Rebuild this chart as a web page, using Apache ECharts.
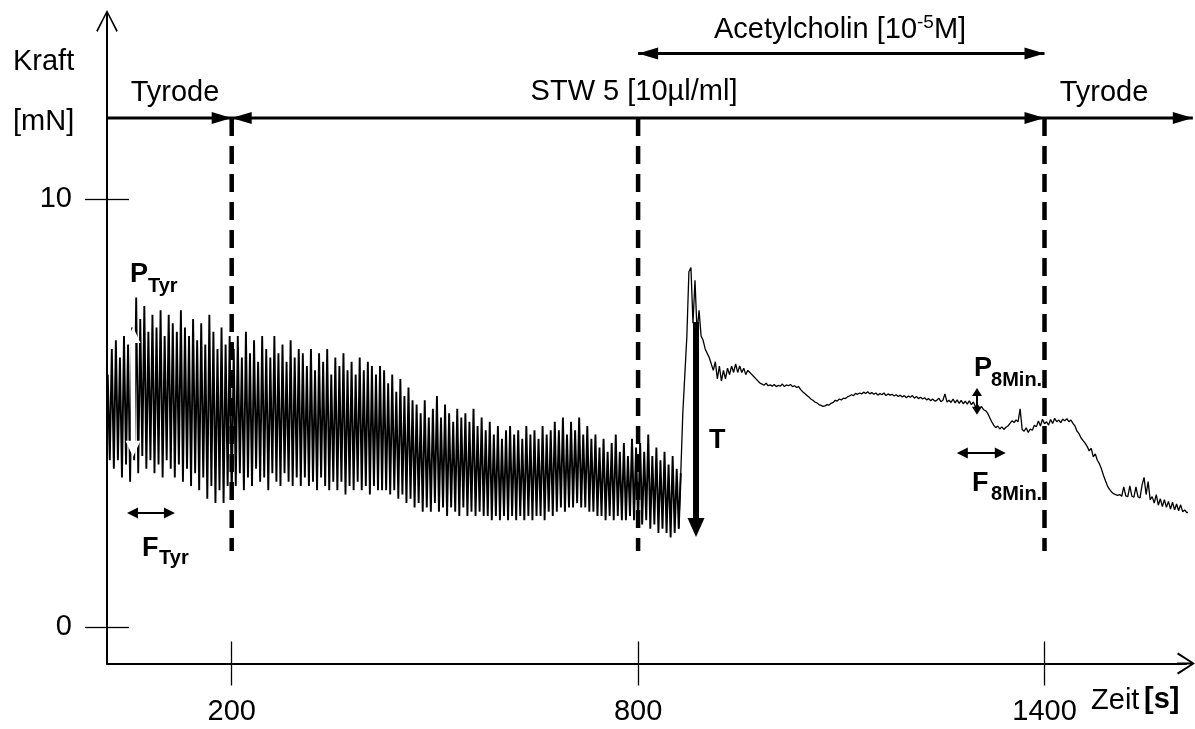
<!DOCTYPE html>
<html><head><meta charset="utf-8">
<script src="https://cdn.jsdelivr.net/npm/echarts@6/dist/echarts.min.js"></script>
<style>html,body{margin:0;padding:0;background:#fff}#c{width:1195px;height:729px}</style>
</head><body><div id="c"></div>
<script>
// ---------------- data (force in mN, sampled every 3 s) ----------------
const sampleStepS = 3;
const phaseStartS = [17, 203, 803, 1403];
// Tyrode (17 s .. 200 s)
const tyrodeForce = [
  5.9,3.9, 6.5,3.7, 6.7,3.9, 6.3,3.5, 6.8,3.8,
  6.6,3.4, 7.0,3.9, 7.7,3.6, 7.2,4.0, 7.5,3.7,
  6.9,3.9, 7.3,3.6, 7.0,3.8, 7.4,3.5, 6.8,3.9,
  7.3,3.7, 7.1,3.5, 6.9,3.8, 7.4,3.4, 7.0,3.7,
  6.8,3.3, 7.2,3.6, 6.7,3.2, 7.1,3.5, 6.6,3.0,
  7.3,3.3, 6.9,2.9, 6.5,3.2, 7.0,2.9, 6.6,3.3,
  6.8,3.0
];
// STW 5 (203 s .. 800 s)
const stwForce = [
  6.5,3.3, 6.8,3.6, 6.3,3.2, 6.9,3.5, 6.4,3.3,
  6.7,3.7, 6.2,3.4, 6.8,3.5, 6.5,3.2, 6.3,3.6,
  6.8,3.4, 6.4,3.3, 6.6,3.6, 6.2,3.4, 6.7,3.3,
  6.3,3.5, 6.5,3.3, 6.4,3.5, 6.1,3.3, 6.5,3.4,
  6.0,3.2, 6.4,3.5, 6.2,3.3, 6.5,3.2, 5.9,3.4,
  6.3,3.2, 6.1,3.4, 6.4,3.1, 6.0,3.3, 6.2,3.2,
  5.9,3.4, 6.3,3.2, 6.0,3.3, 6.2,3.1, 6.1,3.3,
  5.9,3.2, 6.1,3.2, 6.0,3.2, 5.7,3.1, 5.9,3.2,
  5.5,3.0, 5.8,3.1, 5.4,2.9, 5.6,3.0, 5.3,2.8,
  5.2,2.9, 5.0,2.7, 5.3,2.8, 4.9,2.7, 5.1,2.9,
  5.4,2.7, 4.9,2.8, 5.2,2.6, 5.0,2.8, 4.8,2.7,
  5.1,2.6, 4.9,2.8, 5.0,2.6, 4.8,2.7, 5.1,2.6,
  4.7,2.7, 4.9,2.6, 4.6,2.6, 4.8,2.5, 4.5,2.6,
  4.7,2.5, 4.4,2.6, 4.6,2.5, 4.7,2.6, 4.5,2.5,
  4.6,2.6, 4.4,2.5, 4.7,2.6, 4.5,2.5, 4.6,2.6,
  4.4,2.6, 4.7,2.5, 4.5,2.7, 4.6,2.6, 4.8,2.7,
  4.6,2.8, 4.9,2.7, 4.5,2.8, 4.8,2.8, 4.6,2.9,
  4.9,2.8, 4.5,2.8, 4.7,2.7, 4.4,2.7, 4.5,2.6,
  4.2,2.6, 4.4,2.5, 4.1,2.6, 4.3,2.5, 4.5,2.6,
  4.1,2.5, 4.3,2.5, 4.0,2.6, 4.4,2.5, 4.2,2.4
];
// STW 5 + Acetylcholin (803 s .. 1400 s)
const achForce = [
  4.3,2.4, 4.1,2.5, 4.5,2.3, 4.0,2.4, 4.2,2.2,
  3.9,2.3, 4.1,2.2, 3.8,2.1, 4.0,2.2, 3.7,2.3,
  3.6, 5.0, 5.9, 6.8, 8.3, 8.4, 7.1, 8.1, 6.9, 7.4,
  6.8, 6.7, 6.5, 6.4, 6.3, 6.15, 6.0, 6.2, 5.8, 6.1,
  5.75, 6.0, 5.8, 6.05, 5.9, 6.1, 5.95, 6.15, 5.95, 6.1,
  5.95, 6.05, 5.9, 6.0, 5.95, 5.9, 5.85, 5.8, 5.75, 5.7,
  5.68, 5.65, 5.7, 5.64, 5.66, 5.63, 5.67, 5.62, 5.65, 5.63,
  5.68, 5.62, 5.66, 5.64, 5.67, 5.62, 5.64, 5.6, 5.62, 5.55,
  5.5, 5.46, 5.42, 5.38, 5.33, 5.3, 5.26, 5.24, 5.2, 5.18,
  5.16, 5.17, 5.2, 5.19, 5.23, 5.25, 5.3, 5.28, 5.33, 5.31,
  5.35, 5.34, 5.38, 5.4, 5.43, 5.41, 5.46, 5.44, 5.47, 5.45,
  5.49, 5.46, 5.5, 5.45, 5.48, 5.44, 5.47, 5.42, 5.46, 5.43,
  5.47, 5.41, 5.45, 5.42, 5.44, 5.4, 5.43, 5.39, 5.42, 5.38,
  5.41, 5.36, 5.4, 5.37, 5.41, 5.35, 5.39, 5.34, 5.37, 5.33,
  5.36, 5.31, 5.34, 5.29, 5.33, 5.28, 5.3, 5.35, 5.27, 5.3,
  5.45, 5.26, 5.3, 5.25, 5.33, 5.24, 5.31, 5.23, 5.3, 5.22,
  5.28, 5.21, 5.29, 5.2, 5.26, 5.15, 5.2, 5.12, 5.15, 5.08,
  5.06, 5.0, 4.9, 4.8, 4.72, 4.66, 4.7, 4.63, 4.68, 4.62,
  4.67, 4.7, 4.76, 4.82, 4.78, 4.84, 4.8, 5.1, 4.62, 4.58,
  4.66, 4.55, 4.63, 4.6, 4.72, 4.68, 4.82, 4.7, 4.86, 4.75
];
// Tyrode wash-out (1403 s .. 1616 s)
const washForce = [
  4.8, 4.72, 4.85, 4.76, 4.88, 4.8, 4.84, 4.78, 4.86, 4.82,
  4.87, 4.8, 4.84, 4.76, 4.7, 4.58, 4.52, 4.42, 4.36, 4.3,
  4.22, 4.12, 4.18, 3.98, 4.05, 3.9, 3.82, 3.7, 3.55, 3.42,
  3.3, 3.22, 3.16, 3.12, 3.1, 3.08, 3.1, 3.06, 3.28, 3.07,
  3.05, 3.3, 3.06, 3.04, 3.28, 3.05, 3.02, 3.32, 3.5, 3.1,
  3.4, 2.98, 3.05, 2.9, 3.1, 2.85, 3.0, 2.82, 2.98, 2.8,
  2.94, 2.76, 2.92, 2.74, 2.88, 2.72, 2.86, 2.7, 2.74, 2.68,
  2.68, 2.67
];
const xTickValues = [200, 800, 1400];
const yTickValues = [0, 10];
const phaseBoundsS = [200, 800, 1400];
const phaseLabels = ['Tyrode', 'STW 5 [10µl/ml]', 'Tyrode'];
const contractionStartS = 862;   // end of rhythmic phase / start of tonic contraction

// ---------------- build ----------------
const phases = [tyrodeForce, stwForce, achForce, washForce];
const forceData = [];
phases.forEach((arr, p) => arr.forEach((v, i) => forceData.push([phaseStartS[p] + i * sampleStepS, v])));
const rhythmicData = forceData.filter(d => d[0] <= contractionStartS + 1);
const tonicData = forceData.filter(d => d[0] >= contractionStartS - 2);

const FONT = '"Liberation Sans", Arial, Helvetica, sans-serif';
const X_MIN = 15.9, X_MAX = 1608.9, Y_MIN = -0.845, Y_MAX = 14.156;
const arrowY = 'path://M11,0 L22,21 L20.6,22.4 L11,3 L1.4,22.4 L0,21 Z M10,2 L12,2 L12,22 L10,22 Z';
const arrowX = 'path://M11,0 L22,17 L20.4,18.2 L11,3.2 L1.6,18.2 L0,17 Z M10,2 L12,2 L12,18 L10,18 Z';
const plainNum = v => String(v);

const chart = echarts.init(document.getElementById('c'), null, {renderer: 'canvas'});
const option = {
  animation: false,
  backgroundColor: '#ffffff',
  grid: {left: 107, right: 9, top: 21, bottom: 65.5, containLabel: false, outerBoundsMode: 'none'},
  xAxis: [{
    type: 'value', min: X_MIN, max: X_MAX, position: 'bottom',
    axisLine: {show: true, onZero: false, lineStyle: {color: '#000', width: 2}, symbol: ['none', arrowX], symbolSize: [22, 18]},
    axisTick: {show: true, customValues: xTickValues, length: 22, inside: false, lineStyle: {color: '#000', width: 1.3}},
    axisLabel: {show: true, customValues: xTickValues, formatter: plainNum, margin: 34, color: '#000', fontSize: 29, fontFamily: FONT},
    splitLine: {show: false}
  }, {
    type: 'value', min: X_MIN, max: X_MAX, position: 'bottom',
    axisLine: {show: false, onZero: false},
    axisTick: {show: true, customValues: xTickValues, length: 22, inside: true, lineStyle: {color: '#000', width: 1.3}},
    axisLabel: {show: false}, splitLine: {show: false}
  }],
  yAxis: [{
    type: 'value', min: Y_MIN, max: Y_MAX, position: 'left',
    axisLine: {show: true, onZero: false, lineStyle: {color: '#000', width: 2}, symbol: ['none', arrowY], symbolSize: [22, 22]},
    axisTick: {show: true, customValues: yTickValues, length: 22, inside: false, lineStyle: {color: '#000', width: 1.3}},
    axisLabel: {show: true, customValues: yTickValues, formatter: plainNum, margin: 35, color: '#000', fontSize: 29, fontFamily: FONT},
    splitLine: {show: false}
  }, {
    type: 'value', min: Y_MIN, max: Y_MAX, position: 'left',
    axisLine: {show: false, onZero: false},
    axisTick: {show: true, customValues: yTickValues, length: 22, inside: true, lineStyle: {color: '#000', width: 1.3}},
    axisLabel: {show: false}, splitLine: {show: false}
  }],
  series: [{
    type: 'line', data: rhythmicData, xAxisIndex: 0, yAxisIndex: 0,
    showSymbol: false, symbol: 'none', clip: false, silent: true,
    lineStyle: {color: '#000', width: 1.9, join: 'miter'}
  }, {
    type: 'line', data: tonicData, xAxisIndex: 0, yAxisIndex: 0,
    showSymbol: false, symbol: 'none', clip: false, silent: true,
    lineStyle: {color: '#000', width: 1.3}
  }]
};
chart.setOption(option);

// ---------------- annotations (positions in data units: s, mN) ----------------
const ROW_F = 11.89, ACH_F = 13.40, DASH_BOTTOM_F = 1.78, ROW_END_T = 1619;
const px = (t, f) => chart.convertToPixel({xAxisIndex: 0, yAxisIndex: 0}, [t, f]);
const els = [];
function line(a, b, w, color, dash) {
  els.push({type: 'line', z: 100, silent: true, shape: {x1: a[0], y1: a[1], x2: b[0], y2: b[1]},
    style: {stroke: color, lineWidth: w, lineDash: dash || null, lineCap: 'butt'}});
}
function head(tip, dx, dy, len, hw, color) {
  const bx = tip[0] - dx * len, by = tip[1] - dy * len;
  els.push({type: 'polygon', z: 101, silent: true,
    shape: {points: [[tip[0], tip[1]], [bx - dy * hw, by + dx * hw], [bx + dy * hw, by - dx * hw]]},
    style: {fill: color}});
}
function text(t, f, str, font, align) {
  const p = px(t, f);
  els.push({type: 'text', z: 102, silent: true,
    style: {text: str, x: p[0], y: p[1], font: font, fill: '#000', textAlign: align || 'left', align: align || 'left',
      textVerticalAlign: 'middle', verticalAlign: 'middle'}});
}
const REG = '29px ' + FONT, BOLD = 'bold 27px ' + FONT, SUB = 'bold 20px ' + FONT;

// phase bar
const r0 = px(X_MIN, ROW_F), r1 = px(ROW_END_T, ROW_F);
line(r0, r1, 3, '#000');
const b200 = px(phaseBoundsS[0], ROW_F), b1400 = px(phaseBoundsS[2], ROW_F);
head(b200, 1, 0, 20, 6, '#000');
head(b200, -1, 0, 20, 6, '#000');
head(b1400, 1, 0, 20, 6, '#000');
head(r1, 1, 0, 20, 6, '#000');
// acetylcholin bar
const a0 = px(phaseBoundsS[1], ACH_F), a1 = px(phaseBoundsS[2], ACH_F);
line(a0, a1, 3, '#000');
head(a0, -1, 0, 20, 6, '#000');
head(a1, 1, 0, 20, 6, '#000');
// dashed phase boundaries
phaseBoundsS.forEach(t => line(px(t, ROW_F), px(t, DASH_BOTTOM_F), 4.5, '#000', [18, 10]));

// phase labels
text(116.3, 12.47, phaseLabels[0], REG, 'center');
text(794.0, 12.50, phaseLabels[1], REG, 'center');
text(1487.9, 12.47, phaseLabels[2], REG, 'center');
{
  const p = px(1098.1, 13.95);
  els.push({type: 'text', z: 102, silent: true, style: {
    text: '{a|Acetylcholin [10}{s|-5}{a|M]}', x: p[0], y: p[1], textAlign: 'center', align: 'center',
    textVerticalAlign: 'middle', verticalAlign: 'middle',
    rich: {a: {fontSize: 29, fontFamily: FONT, lineHeight: 34, fill: '#000', color: '#000'},
           s: {fontSize: 19, fontFamily: FONT, verticalAlign: 'top', fill: '#000', color: '#000'}}}});
}
// axis titles
text(-122.9, 13.20, 'Kraft', REG);
text(-122.9, 11.80, '[mN]', REG);
text(1468.7, -1.72, 'Zeit', REG);
text(1546.9, -1.70, '[s]', 'bold 29px ' + FONT);

// P Tyr (white double arrow)
{
  const top = px(54.3, 7.01), bot = px(54.3, 3.98);
  line([top[0], top[1] + 14], [bot[0], bot[1] - 14], 4.5, '#fff');
  head(top, 0, -1, 16, 7.5, '#fff');
  head(bot, 0, 1, 16, 7.5, '#fff');
  text(49.9, 8.23, 'P', BOLD);
  text(76.4, 7.95, 'Tyr', SUB);
}
// F Tyr
{
  const l = px(45.4, 2.67), r = px(116.2, 2.67);
  line([l[0] + 8, l[1]], [r[0] - 8, r[1]], 2, '#000');
  head(l, -1, 0, 11, 5.5, '#000');
  head(r, 1, 0, 11, 5.5, '#000');
  text(67.6, 1.85, 'F', BOLD);
  text(92.7, 1.60, 'Tyr', SUB);
}
// T
{
  const top = px(885.5, 7.13), bot = px(885.5, 2.11);
  line(top, [bot[0], bot[1] - 15], 6, '#000');
  head(bot, 0, 1, 19, 8.5, '#000');
  text(904.7, 4.37, 'T', BOLD);
}
// P 8Min.
{
  const top = px(1300.3, 5.59), bot = px(1300.3, 4.96);
  line([top[0], top[1] + 6], [bot[0], bot[1] - 6], 2, '#000');
  head(top, 0, -1, 8, 5, '#000');
  head(bot, 0, 1, 8, 5, '#000');
  text(1296.0, 6.03, 'P', BOLD);
  text(1321.1, 5.77, '8Min.', SUB);
}
// F 8Min.
{
  const l = px(1270.5, 4.07), r = px(1342.9, 4.07);
  line([l[0] + 8, l[1]], [r[0] - 8, r[1]], 2, '#000');
  head(l, -1, 0, 11, 5.5, '#000');
  head(r, 1, 0, 11, 5.5, '#000');
  text(1293.0, 3.35, 'F', BOLD);
  text(1321.1, 3.09, '8Min.', SUB);
}
chart.setOption({graphic: {elements: els}});
</script></body></html>
